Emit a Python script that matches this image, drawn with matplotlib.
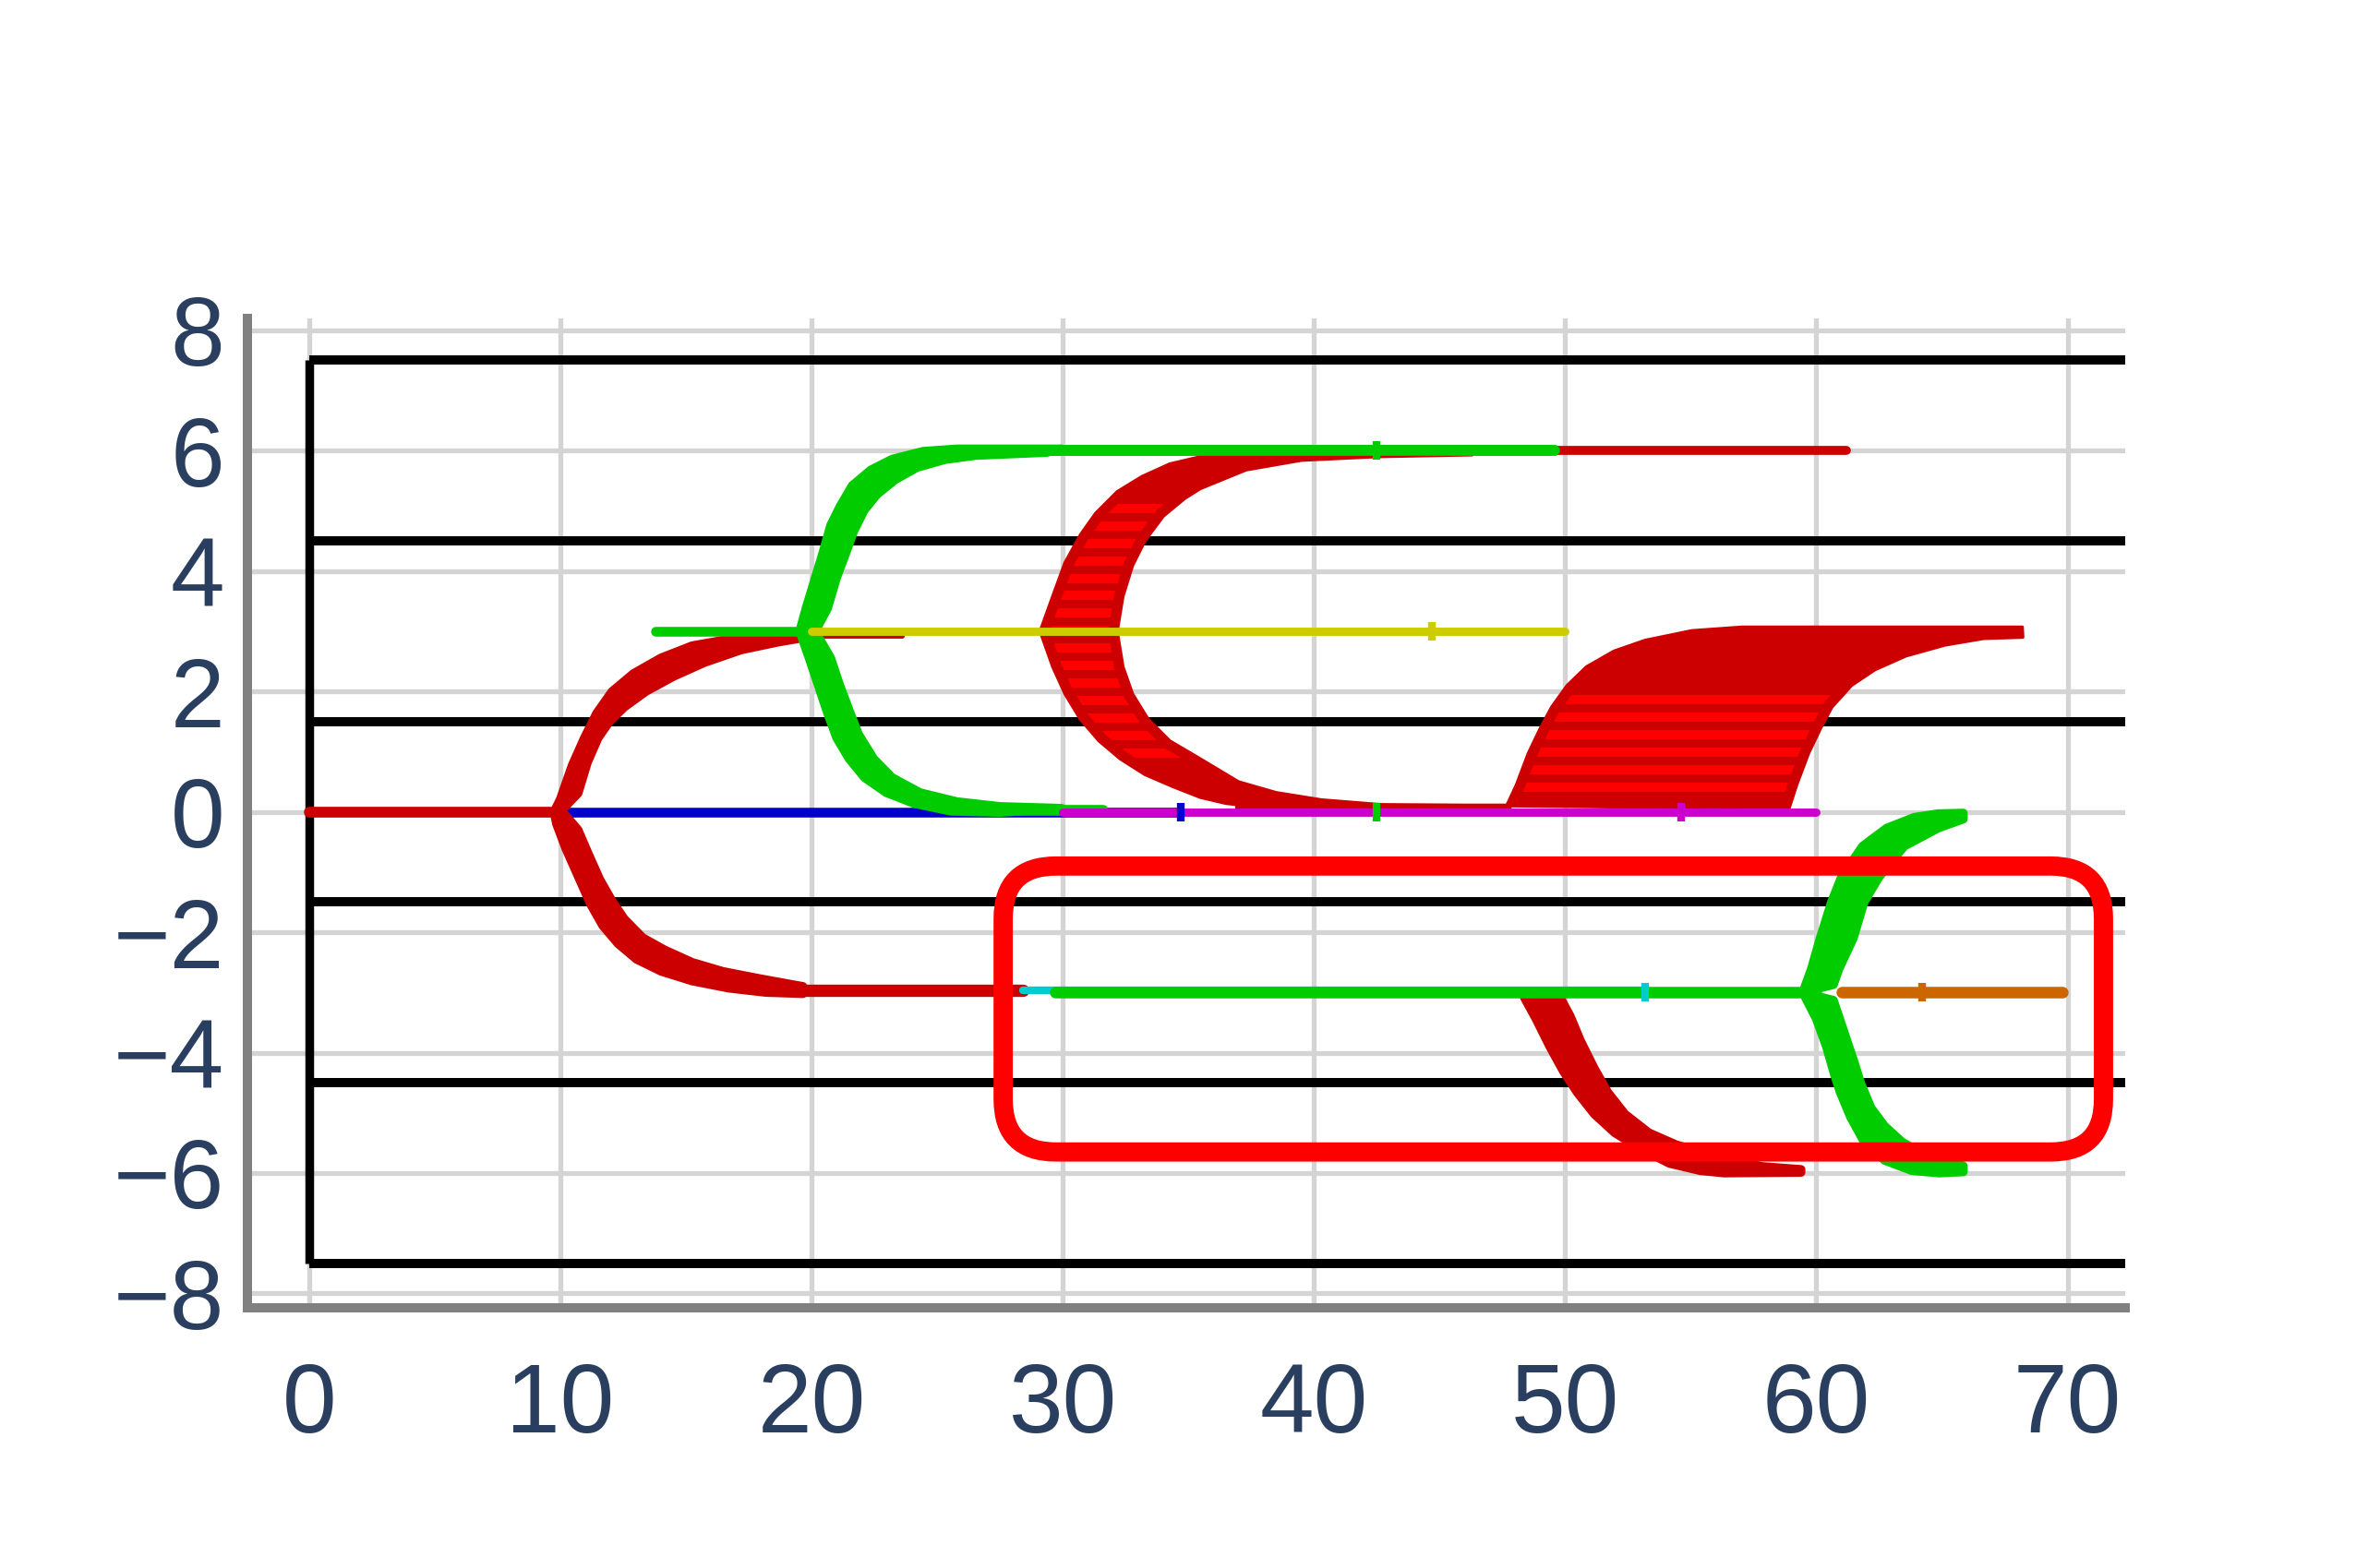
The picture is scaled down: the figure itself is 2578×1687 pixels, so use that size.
import numpy as np
import matplotlib.pyplot as plt
from matplotlib.patches import FancyBboxPatch, Polygon

plt.rcParams['font.family'] = ['Liberation Sans', 'DejaVu Sans']
plt.rcParams['lines.solid_capstyle'] = 'round'

RED = '#cc0000'
STRIPE = '#ff0000'
GREEN = '#00cc00'
BLUE = '#0000cc'
YELLOW = '#cccc00'
MAGENTA = '#cc00cc'
CYAN = '#00cccc'
ORANGE = '#cc6600'

# axis ticks
x_ticks = [0, 10, 20, 30, 40, 50, 60, 70]
y_ticks = [-8, -6, -4, -2, 0, 2, 4, 6, 8]

# black frame: horizontal rails and the left post
rail_y = [-7.5, -4.5, -1.5, 1.5, 4.5, 7.5]

# flat runs: colour, y, x start, x end, width
run_color = [RED, BLUE, RED, RED, CYAN, GREEN, GREEN, GREEN, RED, RED, GREEN, YELLOW,
             RED, MAGENTA, GREEN, ORANGE]
run_y = [0, 0, 2.93, -2.96, -2.97, 3.0, 6.0, 0.03, 6.0, 0.07, 6.0, 3.0,
         0.07, 0, -3.0, -3.0]
run_x0 = [0, 10, 19.6, 19.6, 28.4, 13.8, 26.0, 27.0, 38.0, 37.0, 26.0, 20.0,
          37.0, 30.0, 29.7, 61.0]
run_x1 = [9.8, 34.7, 23.6, 28.4, 53.2, 19.6, 49.6, 31.6, 61.2, 47.7, 49.6, 50.0,
          47.7, 60.0, 60.0, 69.8]
run_w = [4.2, 3.8, 1.8, 4.8, 3.0, 3.8, 4.2, 4.2, 3.5, 3.0, 4.2, 3.2,
         3.0, 3.2, 4.5, 4.5]

# branches: outer edge (x, y) and inner edge (x, y) of each band
ra_up_ox = [9.75, 10.0, 10.47, 10.96, 11.45, 12.06, 12.92, 14.02, 15.25, 16.72, 18.19, 19.66]
ra_up_oy = [0.0, 0.21, 0.77, 1.23, 1.64, 2.0, 2.30, 2.56, 2.76, 2.87, 2.92, 2.94]
ra_up_ix = [10.0, 10.71, 11.08, 11.51, 11.94, 12.55, 13.41, 14.51, 15.74, 17.2, 18.68, 19.66]
ra_up_iy = [0.0, 0.31, 0.82, 1.23, 1.49, 1.74, 2.0, 2.25, 2.48, 2.69, 2.82, 2.89]

ra_dn_ox = [9.75, 9.85, 10.22, 10.71, 11.2, 11.69, 12.3, 13.04, 14.02, 15.25, 16.72, 18.19, 19.66]
ra_dn_oy = [0.0, -0.20, -0.61, -1.07, -1.53, -1.89, -2.19, -2.45, -2.65, -2.81, -2.93, -3.0, -3.02]
ra_dn_ix = [10.1, 10.71, 11.08, 11.57, 12.06, 12.55, 13.28, 14.14, 15.25, 16.47, 17.94, 19.66]
ra_dn_iy = [0.0, -0.30, -0.66, -1.12, -1.48, -1.78, -2.09, -2.29, -2.50, -2.65, -2.77, -2.9]

gb_up_ox = [19.53, 19.78, 20.15, 20.45, 20.76, 21.13, 21.62, 22.36, 23.21, 24.44, 25.79, 29.96]
gb_up_oy = [3.0, 3.38, 3.89, 4.30, 4.76, 5.07, 5.42, 5.68, 5.86, 5.99, 6.03, 6.03]
gb_up_ix = [20.15, 20.64, 21.0, 21.37, 21.68, 22.1, 22.6, 23.34, 24.2, 25.3, 26.53, 29.36]
gb_up_iy = [3.0, 3.38, 3.89, 4.30, 4.66, 5.01, 5.27, 5.52, 5.72, 5.85, 5.92, 5.97]

gb_dn_ox = [19.53, 19.9, 20.27, 20.64, 21.0, 21.5, 22.11, 22.97, 24.07, 25.55, 27.51]
gb_dn_oy = [3.0, 2.56, 2.10, 1.64, 1.23, 0.88, 0.57, 0.32, 0.14, 0.01, -0.01]
gb_dn_ix = [20.15, 20.76, 21.13, 21.5, 21.87, 22.48, 23.21, 24.32, 25.79, 27.51, 29.96]
gb_dn_iy = [3.0, 2.56, 2.10, 1.69, 1.29, 0.88, 0.57, 0.32, 0.17, 0.09, 0.06]

rc_ox = [47.8, 42.0, 38.5, 36.5, 35.48, 34.38, 33.27, 32.29, 31.44, 30.7, 30.09, 29.6, 29.1,
         29.6, 30.09, 30.7, 31.31, 32.17, 33.15, 34.26, 35.48, 37.5, 40.0, 46.3]
rc_oy = [0.0, 0.0, 0.05, 0.14, 0.24, 0.42, 0.62, 0.88, 1.18, 1.54, 1.96, 2.41, 3.0,
         3.58, 4.14, 4.6, 4.96, 5.32, 5.57, 5.78, 5.9, 5.98, 6.02, 6.02]
rc_ix = [47.8, 42.7, 40.3, 38.5, 37.0, 35.48, 34.26, 33.4, 32.78, 32.4, 32.17,
         32.4, 32.78, 33.27, 34.0, 34.87, 35.48, 37.3, 39.5, 42.5, 46.3]
rc_iy = [0.1, 0.12, 0.2, 0.32, 0.5, 0.88, 1.18, 1.54, 1.96, 2.41, 3.0,
         3.58, 4.09, 4.5, 4.91, 5.21, 5.37, 5.68, 5.84, 5.9, 5.93]

rd_ox = [47.67, 48.06, 48.53, 49.0, 49.46, 50.08, 50.85, 51.94, 53.18, 55.04, 57.05, 68.2]
rd_oy = [0.10, 0.45, 0.97, 1.38, 1.74, 2.10, 2.41, 2.67, 2.85, 3.01, 3.07, 3.07]
rd_ix = [58.91, 59.22, 59.69, 60.16, 60.62, 61.4, 62.33, 63.57, 65.12, 66.67, 68.22]
rd_iy = [0.05, 0.45, 0.97, 1.38, 1.74, 2.10, 2.36, 2.59, 2.77, 2.88, 2.90]

re_ox = [48.37, 48.84, 49.39, 49.93, 50.48, 51.16, 51.97, 52.93, 54.15, 55.37, 56.33, 59.39]
re_oy = [-3.08, -3.44, -3.90, -4.31, -4.66, -5.02, -5.33, -5.58, -5.84, -5.96, -6.0, -5.99]
re_ix = [49.8, 50.2, 50.61, 51.16, 51.7, 52.38, 53.33, 54.42, 56.05, 57.82, 59.39]
re_iy = [-3.08, -3.39, -3.80, -4.26, -4.66, -5.02, -5.33, -5.53, -5.73, -5.89, -5.94]

gf_up_ox = [59.46, 59.8, 60.15, 60.6, 61.0, 61.84, 62.8, 63.9, 64.85, 65.85]
gf_up_oy = [-3.0, -2.61, -2.1, -1.5, -1.08, -0.57, -0.27, -0.09, -0.03, -0.02]
gf_up_ix = [60.68, 60.9, 61.47, 61.9, 62.5, 63.5, 64.85, 65.85]
gf_up_iy = [-2.87, -2.61, -2.1, -1.5, -1.08, -0.57, -0.27, -0.12]

gf_dn_ox = [59.46, 60.0, 60.4, 60.68, 60.95, 61.36, 61.9, 62.72, 63.8, 64.9, 65.85]
gf_dn_oy = [-3.0, -3.44, -3.90, -4.31, -4.66, -5.07, -5.48, -5.79, -5.96, -6.0, -5.98]
gf_dn_ix = [60.68, 61.09, 61.5, 61.77, 62.18, 62.72, 63.4, 64.22, 65.31, 65.85]
gf_dn_iy = [-3.13, -3.64, -4.15, -4.51, -4.92, -5.22, -5.48, -5.68, -5.81, -5.88]

# bright stripes inside the two wide bands: first, last, spacing
rc_stripes = (0.98, 5.05, 0.29)
rd_stripes = (0.12, 2.05, 0.29)

# small tick marks on the runs
mark_x = [34.7, 42.5, 42.5, 44.7, 54.6, 53.2, 64.2]
mark_y = [0, 6, 0, 3, 0, -3, -3]
mark_c = [BLUE, GREEN, GREEN, YELLOW, MAGENTA, CYAN, ORANGE]

# highlighted region (rounded box)
box_x = [27.63, 71.43]
box_y = [-5.65, -0.9]


def branch(ax, ox, oy, ix, iy, color, stroke=3.4, stripes=None, z=3):
    xs = np.concatenate([ox, ix[::-1]])
    ys = np.concatenate([oy, iy[::-1]])
    pts = np.column_stack([xs, ys])
    body = Polygon(pts, closed=True, fc=color, ec=color, lw=stroke,
                   joinstyle='round', zorder=z)
    ax.add_patch(body)
    if stripes is not None:
        clip = Polygon(pts, closed=True, fc='none', ec='none', lw=0)
        clip.set_transform(ax.transData)
        ys_st = np.arange(stripes[0], stripes[1], stripes[2])
        st = ax.hlines(ys_st, xs.min(), xs.max(), color=STRIPE, lw=3.6, zorder=z)
        st.set_clip_path(clip)
        rim = Polygon(pts, closed=True, fc='none', ec=color, lw=7,
                      joinstyle='round', zorder=z)
        ax.add_patch(rim)
        rim.set_clip_path(clip)


def run(ax, i, z=3):
    ax.plot([run_x0[i], run_x1[i]], [run_y[i], run_y[i]], color=run_color[i],
            lw=run_w[i], zorder=z)


fig = plt.figure(figsize=(12.89, 8.435), dpi=200)
ax = fig.add_axes([0.104, 0.160, 0.789, 0.6356])
ax.set_xlim(-2.45, 72.3)
ax.set_ylim(-8.24, 8.2)
ax.set_xticks(x_ticks)
ax.set_yticks(y_ticks)
ax.grid(color='#d4d4d4', lw=1.9)
ax.set_axisbelow(True)
for s in ['top', 'right']:
    ax.spines[s].set_visible(False)
for s in ['left', 'bottom']:
    ax.spines[s].set_color('#808080')
    ax.spines[s].set_linewidth(3.6)
ax.tick_params(length=0, labelsize=38, labelcolor='#2a3f5f')
ax.tick_params(axis='x', pad=21)
ax.tick_params(axis='y', pad=9)

# frame
ax.hlines(rail_y, 0, 80, color='black', lw=3.6, zorder=2, capstyle='butt')
ax.vlines(0, rail_y[0], rail_y[-1], color='black', lw=3.4, zorder=2)

run(ax, 0)
run(ax, 1)
branch(ax, ra_up_ox, ra_up_oy, ra_up_ix, ra_up_iy, RED)
branch(ax, ra_dn_ox, ra_dn_oy, ra_dn_ix, ra_dn_iy, RED)
run(ax, 2)
run(ax, 3)
run(ax, 4)
run(ax, 5)
branch(ax, gb_up_ox, gb_up_oy, gb_up_ix, gb_up_iy, GREEN)
branch(ax, gb_dn_ox, gb_dn_oy, gb_dn_ix, gb_dn_iy, GREEN)
run(ax, 6)
run(ax, 7)
branch(ax, rc_ox, rc_oy, rc_ix, rc_iy, RED, stroke=1.2, stripes=rc_stripes)
run(ax, 8)
run(ax, 9)
run(ax, 10)
run(ax, 11)
branch(ax, rd_ox, rd_oy, rd_ix, rd_iy, RED, stroke=1.2, stripes=rd_stripes)
run(ax, 12)
run(ax, 13)
branch(ax, re_ox, re_oy, re_ix, re_iy, RED)
run(ax, 14)
branch(ax, gf_up_ox, gf_up_oy, gf_up_ix, gf_up_iy, GREEN)
branch(ax, gf_dn_ox, gf_dn_oy, gf_dn_ix, gf_dn_iy, GREEN)
run(ax, 15)

for x, y, c in zip(mark_x, mark_y, mark_c):
    ax.plot(x, y, marker='|', ms=7, mew=3, color=c, zorder=4)

box = FancyBboxPatch((box_x[0], box_y[0]), box_x[1] - box_x[0], box_y[1] - box_y[0],
                     boxstyle='round,pad=0,rounding_size=2.1', mutation_aspect=0.417,
                     fc='none', ec='#ff0000', lw=7.5, zorder=6, clip_on=False)
ax.add_patch(box)

fig.savefig('out.png', dpi=200)
